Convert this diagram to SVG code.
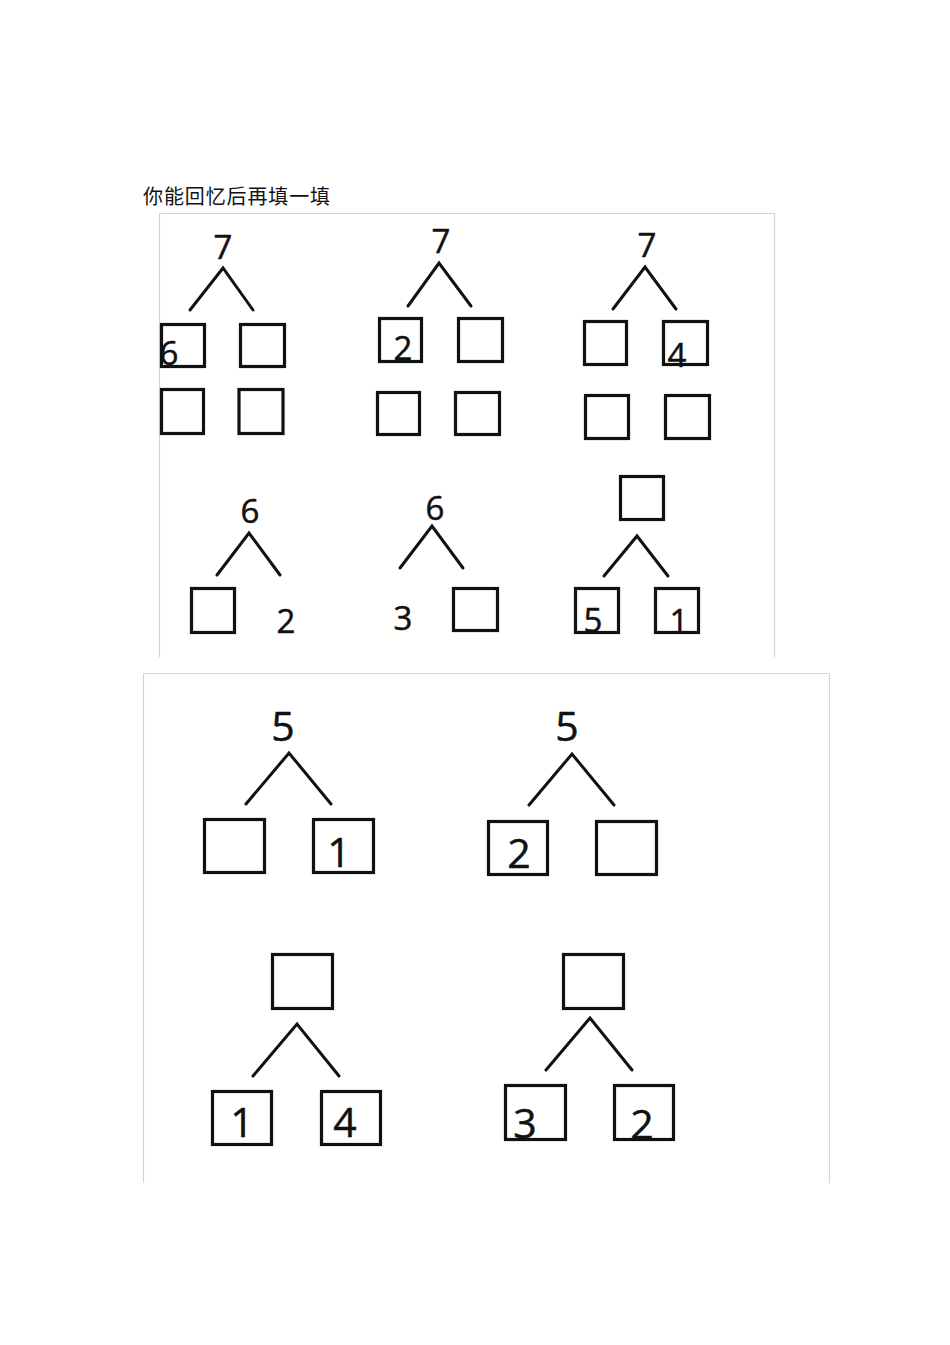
<svg xmlns="http://www.w3.org/2000/svg" width="950" height="1345" viewBox="0 0 950 1345">
<style>
.bx{fill:none;stroke:#111;stroke-width:3.2}
.ln{fill:none;stroke:#111;stroke-width:3;stroke-linecap:round;stroke-linejoin:miter}
.pn{fill:none;stroke:#d4d4d4;stroke-width:1.2}
.d1{font-family:"Open Sans","Liberation Sans",sans-serif;font-size:33px;fill:#111;stroke:#111;stroke-width:0.5;text-anchor:middle}
.d2{font-family:"Open Sans","Liberation Sans",sans-serif;font-size:41px;fill:#111;stroke:#111;stroke-width:0.5;text-anchor:middle}
.tt{font-family:"Noto Sans CJK SC","Liberation Serif",serif;font-size:20px;fill:#111}
</style>
<rect width="950" height="1345" fill="#fff"/>
<text class="tt" x="143" y="204" textLength="187">你能回忆后再填一填</text>
<g id="panels">
<path class="pn" d="M159.5 657V213.5H774.5V657"/>
<path class="pn" d="M143.5 1183V673.5H829.5V1183"/>
</g>
<g id="connectors">
<path class="ln" d="M190 310L223 268L253 310"/>
<path class="ln" d="M408 306L439 263L471 306"/>
<path class="ln" d="M613 309L645 267L676 309"/>
<path class="ln" d="M217 575L249 533L280 575"/>
<path class="ln" d="M400 568L432 526L463 568"/>
<path class="ln" d="M604 576L637 536L668 576"/>
<path class="ln" d="M246 804L289 753L331 804"/>
<path class="ln" d="M529 805L572 754L614 805"/>
<path class="ln" d="M253 1076L297 1024L339 1076"/>
<path class="ln" d="M546 1070L590 1018L632 1070"/>
</g>
<g id="tree1">
<text class="d1" x="223" y="259">7</text>
<rect class="bx" x="161.5" y="324.5" width="43" height="42"/>
<rect class="bx" x="240.5" y="324.5" width="44" height="42"/>
<rect class="bx" x="161.5" y="389.5" width="42" height="44"/>
<rect class="bx" x="239" y="389.5" width="44" height="44"/>
<text class="d1" x="169" y="365">6</text>
</g>
<g id="tree2">
<text class="d1" x="441" y="253">7</text>
<rect class="bx" x="379.5" y="318.5" width="42" height="43"/>
<rect class="bx" x="458.5" y="318.5" width="44" height="43"/>
<rect class="bx" x="377.5" y="392.5" width="42" height="42"/>
<rect class="bx" x="455.5" y="392.5" width="44" height="42"/>
<text class="d1" x="403" y="360">2</text>
</g>
<g id="tree3">
<text class="d1" x="647" y="257">7</text>
<rect class="bx" x="584.5" y="321.5" width="42" height="43"/>
<rect class="bx" x="663.5" y="321.5" width="44" height="43"/>
<rect class="bx" x="585.5" y="395.5" width="43" height="43"/>
<rect class="bx" x="665.5" y="395.5" width="44" height="43"/>
<text class="d1" x="677" y="367">4</text>
</g>
<g id="tree4">
<text class="d1" x="250" y="523">6</text>
<rect class="bx" x="191.5" y="588.5" width="43" height="44"/>
<text class="d1" x="286" y="633">2</text>
</g>
<g id="tree5">
<text class="d1" x="435" y="520">6</text>
<text class="d1" x="403" y="630">3</text>
<rect class="bx" x="453.5" y="588.5" width="44" height="42"/>
</g>
<g id="tree6">
<rect class="bx" x="620.5" y="476.5" width="43" height="43"/>
<rect class="bx" x="575.5" y="588.5" width="43" height="44"/>
<rect class="bx" x="655.5" y="588.5" width="43" height="44"/>
<text class="d1" x="593" y="632">5</text>
<text class="d1" x="679" y="633">1</text>
</g>
<g id="tree7">
<text class="d2" x="283" y="741">5</text>
<rect class="bx" x="204.5" y="819.5" width="60" height="53"/>
<rect class="bx" x="313.5" y="819.5" width="60" height="53"/>
<text class="d2" x="339" y="867">1</text>
</g>
<g id="tree8">
<text class="d2" x="567" y="741">5</text>
<rect class="bx" x="488.5" y="821.5" width="59" height="53"/>
<rect class="bx" x="596.5" y="821.5" width="60" height="53"/>
<text class="d2" x="519" y="868">2</text>
</g>
<g id="tree9">
<rect class="bx" x="272.5" y="954.5" width="60" height="54"/>
<rect class="bx" x="212.5" y="1091.5" width="59" height="53"/>
<rect class="bx" x="321.5" y="1091.5" width="59" height="53"/>
<text class="d2" x="242" y="1137">1</text>
<text class="d2" x="345" y="1137">4</text>
</g>
<g id="tree10">
<rect class="bx" x="563.5" y="954.5" width="60" height="54"/>
<rect class="bx" x="505.5" y="1085.5" width="60" height="54"/>
<rect class="bx" x="614.5" y="1085.5" width="59" height="54"/>
<text class="d2" x="525" y="1138">3</text>
<text class="d2" x="642" y="1139">2</text>
</g>
</svg>
